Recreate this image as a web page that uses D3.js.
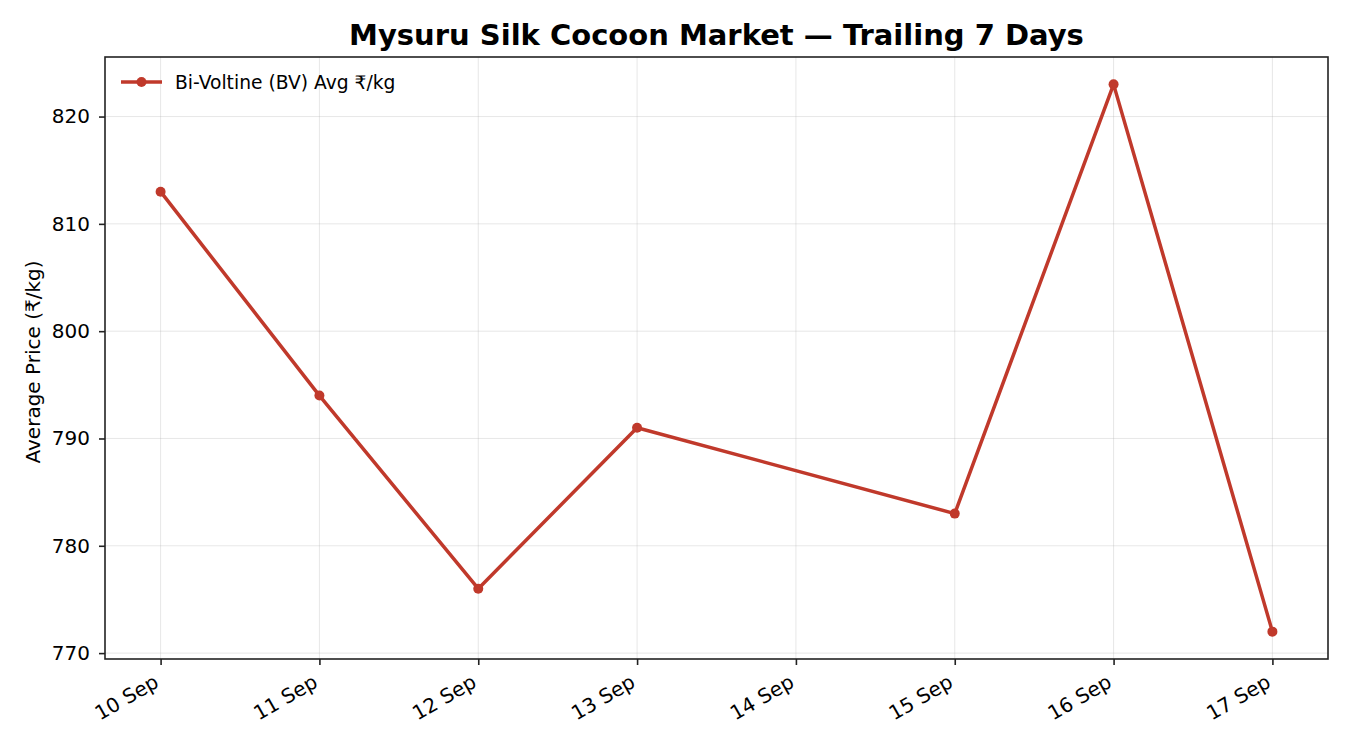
<!DOCTYPE html>
<html>
<head>
    <meta charset='utf-8'>
    <style>
        body { margin: 0; background: #fff; }
        text { font-family: "DejaVu Sans", sans-serif; fill: #000; }
        .grid line { stroke: #b0b0b0; stroke-opacity: 0.3; stroke-width: 1px; }
        .axis line { stroke: #222; stroke-width: 1.6px; }
    </style>
</head>
<body>
    <div id='chart'></div>
    <script src="https://d3js.org/d3.v7.min.js"></script>
    <script>
        // daily averages (14 Sep has no market data)
        var dates = ['2024-09-10', '2024-09-11', '2024-09-12', '2024-09-13', '2024-09-15', '2024-09-16', '2024-09-17'];
        var bvPrice = [813, 794, 776, 791, 783, 823, 772];
        var yTicks = [770, 780, 790, 800, 810, 820];
        var seriesName = 'Bi-Voltine (BV) Avg \u20b9/kg';
        var title = 'Mysuru Silk Cocoon Market \u2014 Trailing 7 Days';
        var yLabel = 'Average Price (\u20b9/kg)';

        var width = 1350, height = 750;
        var margin = { top: 57, right: 22, bottom: 91, left: 105 };
        var w = width - margin.left - margin.right;
        var h = height - margin.top - margin.bottom;
        var color = '#c0392b';

        var parse = d3.timeParse('%Y-%m-%d');
        var data = dates.map(function(d, i) {
            return { date: parse(d), value: bvPrice[i] };
        });

        var svg = d3.select('#chart').append('svg')
            .attr('width', width)
            .attr('height', height);

        // matplotlib-style 5% padding around the data
        var xExt = d3.extent(data, function(d) { return d.date; });
        var xPad = (xExt[1] - xExt[0]) * 0.05;
        var x = d3.scaleTime()
            .domain([new Date(+xExt[0] - xPad), new Date(+xExt[1] + xPad)])
            .range([0, w]);

        var yExt = d3.extent(bvPrice);
        var yPad = (yExt[1] - yExt[0]) * 0.05;
        var y = d3.scaleLinear()
            .domain([yExt[0] - yPad, yExt[1] + yPad])
            .range([h, 0]);

        var g = svg.append('g')
            .attr('transform', 'translate(' + margin.left + ',' + margin.top + ')');

        var dayTicks = d3.timeDay.range(xExt[0], d3.timeDay.offset(xExt[1], 1));

        // grid
        g.append('g').attr('class', 'grid')
            .selectAll('line').data(dayTicks).enter().append('line')
            .attr('x1', function(d) { return x(d); })
            .attr('x2', function(d) { return x(d); })
            .attr('y1', 0).attr('y2', h);
        g.append('g').attr('class', 'grid')
            .selectAll('line').data(yTicks).enter().append('line')
            .attr('x1', 0).attr('x2', w)
            .attr('y1', function(d) { return y(d); })
            .attr('y2', function(d) { return y(d); });

        // axes
        var xAxis = g.append('g').attr('class', 'axis')
            .attr('transform', 'translate(0,' + h + ')')
            .call(d3.axisBottom(x).tickValues(dayTicks).tickFormat(d3.timeFormat('%d %b')).tickSize(6).tickSizeOuter(0));
        xAxis.selectAll('text')
            .attr('x', 0).attr('y', 0).attr('dy', 0)
            .attr('text-anchor', 'end')
            .attr('transform', 'translate(-1,27) rotate(-30)')
            .style('font-family', '"DejaVu Sans", sans-serif')
            .style('font-size', '20px');
        xAxis.select('.domain').remove();

        var yAxis = g.append('g').attr('class', 'axis')
            .call(d3.axisLeft(y).tickValues(yTicks).tickSize(6).tickPadding(9).tickSizeOuter(0));
        yAxis.selectAll('text')
            .style('font-family', '"DejaVu Sans", sans-serif')
            .style('font-size', '20px');
        yAxis.select('.domain').remove();

        // frame
        g.append('rect')
            .attr('width', w).attr('height', h)
            .attr('fill', 'none')
            .attr('stroke', '#222')
            .attr('stroke-width', 1.6);

        // line + markers
        var line = d3.line()
            .x(function(d) { return x(d.date); })
            .y(function(d) { return y(d.value); });

        g.append('path').datum(data)
            .attr('d', line)
            .attr('fill', 'none')
            .attr('stroke', color)
            .attr('stroke-width', 3.5)
            .attr('stroke-linejoin', 'round');

        g.selectAll('circle.pt').data(data).enter().append('circle')
            .attr('class', 'pt')
            .attr('cx', function(d) { return x(d.date); })
            .attr('cy', function(d) { return y(d.value); })
            .attr('r', 5)
            .attr('fill', color);

        // legend
        var lg = g.append('g').attr('transform', 'translate(16,25)');
        lg.append('line').attr('x1', 0).attr('x2', 41).attr('y1', 0).attr('y2', 0)
            .attr('stroke', color).attr('stroke-width', 3.5);
        lg.append('circle').attr('cx', 20.5).attr('cy', 0).attr('r', 5).attr('fill', color);
        lg.append('text').attr('x', 54).attr('y', 0).attr('dy', '0.35em')
            .style('font-size', '18.7px').text(seriesName);

        // titles
        svg.append('text')
            .attr('x', margin.left + w / 2).attr('y', 45)
            .attr('text-anchor', 'middle')
            .style('font-size', '29px').style('font-weight', 'bold')
            .text(title);

        svg.append('text')
            .attr('transform', 'translate(40,' + (margin.top + h / 2 + 4) + ') rotate(-90)')
            .attr('text-anchor', 'middle')
            .style('font-size', '20px')
            .text(yLabel);
    </script>
</body>
</html>
